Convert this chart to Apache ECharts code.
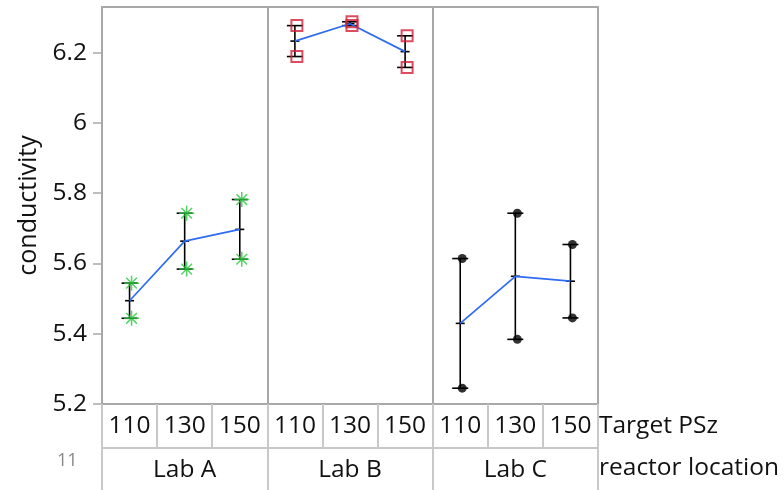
<!DOCTYPE html>
<html lang="en">
<head>
  <meta charset="UTF-8">
  <title>Variability chart for conductivity</title>
  <script src="https://cdn.jsdelivr.net/npm/echarts@6/dist/echarts.min.js"></script>
  <style>
    html, body { margin: 0; padding: 0; background: #fff; }
  </style>
</head>
<body>
  <div id="main" style="width: 784px;height:490px;"></div>
  <script>
    let labs = ['Lab A', 'Lab B', 'Lab C'];
    let pszList = ['110', '130', '150'];
    let yTicks = [5.2, 5.4, 5.6, 5.8, 6, 6.2];

    // two runs per cell (high / low)
    let labAHigh = [5.544, 5.743, 5.782];
    let labALow = [5.444, 5.584, 5.612];
    let labBHigh = [6.277, 6.288, 6.248];
    let labBLow = [6.189, 6.277, 6.158];
    let labCHigh = [5.614, 5.743, 5.654];
    let labCLow = [5.245, 5.384, 5.445];

    let highs = [labAHigh, labBHigh, labCHigh];
    let lows = [labALow, labBLow, labCLow];

    let markerColors = ['#28c83c', '#d4203a', '#000'];
    let asterisk = 'path://M9,0H11V20H9Z M0,9H20V11H0Z ' +
      'M2.2,3.6L3.6,2.2L17.8,16.4L16.4,17.8Z M16.4,2.2L17.8,3.6L3.6,17.8L2.2,16.4Z';
    let markerSymbols = [asterisk, 'rect', 'circle'];
    let markerSizes = [15, 11, 9];

    // category per cell, e.g. 'Lab A|110'
    let cells = [];
    labs.forEach(lab => pszList.forEach(p => cells.push(lab + '|' + p)));

    let gridLine = '#a8a8a8';
    let tableLine = '#c8c8c8';
    let font = '"Open Sans", "Noto Sans", sans-serif';
    let fs = 24.5;

    let barData = [];
    let series = [];
    labs.forEach((lab, l) => {
      let meanPts = [];
      let pts = [];
      pszList.forEach((p, j) => {
        let idx = l * 3 + j;
        let hi = highs[l][j];
        let lo = lows[l][j];
        let mean = (hi + lo) / 2;
        barData.push([idx, lo, hi, mean]);
        meanPts.push([idx, mean]);
        pts.push([idx, hi], [idx, lo]);
      });
      series.push({
        type: 'line',
        name: lab + ' mean',
        data: meanPts,
        symbol: 'none',
        z: 3,
        lineStyle: { color: '#2f6cf5', width: 1.7 }
      });
      series.push({
        type: 'scatter',
        name: lab,
        data: pts,
        z: 4,
        symbol: markerSymbols[l],
        symbolSize: markerSizes[l],
        symbolOffset: [2, 0],
        itemStyle: l === 1 ? {
          color: 'rgba(0,0,0,0)',
          borderColor: markerColors[l],
          borderWidth: 2
        } : { color: markerColors[l] }
      });
    });

    series.unshift({
      type: 'custom',
      name: 'range',
      z: 2,
      encode: { x: 0, y: [1, 2] },
      data: barData,
      renderItem: (params, api) => {
        let x = api.value(0);
        let lo = api.coord([x, api.value(1)]);
        let hi = api.coord([x, api.value(2)]);
        let mid = api.coord([x, api.value(3)]);
        let style = { stroke: '#000', lineWidth: 1.6 };
        let tick = (pt, w) => ({
          type: 'line',
          shape: { x1: pt[0] - w, y1: pt[1], x2: pt[0] + w, y2: pt[1] },
          style: style
        });
        return {
          type: 'group',
          children: [{
            type: 'line',
            shape: { x1: lo[0], y1: lo[1], x2: hi[0], y2: hi[1] },
            style: style
          }, tick(lo, 8), tick(hi, 8), tick(mid, 4.5)]
        };
      }
    });

    let chart = echarts.init(document.getElementById('main'));
    chart.setOption({
      animation: false,
      textStyle: { fontFamily: font },
      grid: {
        left: 102,
        right: 186,
        top: 7,
        bottom: 86,
        show: true,
        borderColor: gridLine,
        borderWidth: 2
      },
      xAxis: [{
        type: 'category',
        position: 'bottom',
        data: cells,
        axisLine: { show: false },
        axisTick: {
          show: true,
          interval: 0,
          length: 44,
          lineStyle: { color: tableLine, width: 2 }
        },
        axisLabel: {
          interval: 0,
          margin: 10,
          fontSize: fs,
          color: '#111',
          fontFamily: font,
          formatter: v => v.split('|')[1]
        },
        splitLine: {
          show: true,
          interval: i => i > 0 && i % 3 === 0,
          lineStyle: { color: gridLine, width: 2 }
        }
      }, {
        type: 'category',
        position: 'bottom',
        offset: 44,
        data: labs,
        axisLine: { show: true, lineStyle: { color: tableLine, width: 2 } },
        axisTick: {
          show: true,
          interval: 0,
          length: 44,
          lineStyle: { color: tableLine, width: 2 }
        },
        axisLabel: {
          interval: 0,
          margin: 10,
          fontSize: fs,
          color: '#111',
          fontFamily: font
        },
        splitLine: { show: false }
      }],
      yAxis: {
        type: 'value',
        min: 5.2,
        max: 6.33,
        interval: 0.2,
        name: 'conductivity',
        nameLocation: 'middle',
        nameGap: 60,
        nameTextStyle: { fontSize: 25, color: '#111', fontFamily: font },
        axisLine: { show: false },
        axisTick: {
          show: true,
          length: 9,
          customValues: yTicks,
          lineStyle: { color: gridLine, width: 1.5 }
        },
        axisLabel: {
          margin: 15,
          fontSize: fs,
          color: '#111',
          fontFamily: font,
          customValues: yTicks
        },
        splitLine: { show: false }
      },
      graphic: [{
        type: 'text',
        x: 599,
        y: 426,
        style: {
          text: 'Target PSz',
          font: fs + 'px ' + font,
          fill: '#111',
          textVerticalAlign: 'middle'
        }
      }, {
        type: 'text',
        x: 599,
        y: 468,
        style: {
          text: 'reactor location',
          font: fs + 'px ' + font,
          fill: '#111',
          textVerticalAlign: 'middle'
        }
      }, {
        type: 'text',
        x: 57,
        y: 461,
        style: {
          text: '11',
          font: '18px ' + font,
          fill: '#888',
          textVerticalAlign: 'middle'
        }
      }],
      series: series
    });
  </script>
</body>
</html>
